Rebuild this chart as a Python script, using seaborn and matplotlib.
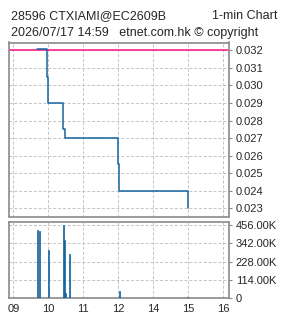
import matplotlib
matplotlib.use("Agg")
import matplotlib.pyplot as plt
import seaborn as sns
import pandas as pd

# ---- data ----
hour_labels = ["09", "10", "11", "12", "14", "15", "16"]
price_times = ["09:41", "09:58", "10:00", "10:25", "10:26", "10:28", "12:00", "12:02", "14:59"]
prices = [0.03207, 0.0305, 0.029, 0.0285, 0.0275, 0.027, 0.0255, 0.024, 0.023]
prev_close = 0.032
vol_times = ["09:41", "09:45", "10:00", "10:26", "10:28", "10:29", "10:36", "12:02", "14:59"]
volumes = [425000, 418000, 300000, 456000, 362000, 31000, 274000, 42000, 5000]
price_ticks = [0.023, 0.024, 0.025, 0.026, 0.027, 0.028, 0.029, 0.030, 0.031, 0.032]
vol_ticks = [0, 114000, 228000, 342000, 456000]
vol_tick_labels = ["0", "114.00K", "228.00K", "342.00K", "456.00K"]
title1_left = "28596 CTXIAMI@EC2609B"
title1_right = "1-min Chart"
title2 = "2026/07/17 14:59   etnet.com.hk \u00a9 copyright"

HOUR_INDEX = {9: 0, 10: 1, 11: 2, 12: 3, 13: 3, 14: 4, 15: 5, 16: 6}


def to_pos(t):
    h, m = map(int, t.split(":"))
    return HOUR_INDEX[h] + m / 60.0


price_df = pd.DataFrame({"pos": [to_pos(t) for t in price_times], "price": prices})
vol_df = pd.DataFrame({"pos": [to_pos(t) for t in vol_times], "vol": volumes})

sns.set_style("white")
plt.rcParams["font.family"] = ["Liberation Sans", "DejaVu Sans"]

BLUE = "#1464a0"
PINK = "#ff1080"
GRID = "#c4c4c4"
SPINE = "#8a8a8a"

fig = plt.figure(figsize=(2.85, 3.18), dpi=100)
ax1 = fig.add_axes([8.5 / 285, 1 - 216.5 / 318, 221 / 285, 174 / 318])
ax2 = fig.add_axes([8.5 / 285, 1 - 298 / 318, 221 / 285, 76.5 / 318])

xlim = (-0.137, 6.177)
xticks = list(range(len(hour_labels)))

for ax in (ax1, ax2):
    ax.set_xlim(*xlim)
    ax.set_xticks(xticks)
    for s in ax.spines.values():
        s.set_color(SPINE)
        s.set_linewidth(1.2)
    ax.grid(True, color=GRID, linestyle=(0, (3, 2)), linewidth=0.7)
    ax.set_axisbelow(True)
    ax.yaxis.tick_right()
    ax.tick_params(axis="y", which="both", direction="out", length=2.5, width=0.8,
                   color=SPINE, labelsize=8, pad=2, left=False, right=True)

# ---- price panel ----
ax1.axhline(prev_close, color=PINK, linewidth=1.1, zorder=2)
sns.lineplot(data=price_df, x="pos", y="price", drawstyle="steps-post",
             color=BLUE, linewidth=1.1, ax=ax1, zorder=3)
ax1.set_ylim(0.022533, 0.032444)
ax1.set_yticks(price_ticks)
ax1.set_yticklabels([f"{v:.3f}" for v in price_ticks])
ax1.tick_params(axis="x", length=0, labelbottom=False)
ax1.set_xlim(*xlim)
ax1.set_xlabel("")
ax1.set_ylabel("")

# ---- volume panel ----
sns.barplot(data=vol_df, x="pos", y="vol", native_scale=True, width=1.0,
            color=BLUE, saturation=1, linewidth=0.5, edgecolor=BLUE, ax=ax2, zorder=3)
ax2.set_xlim(*xlim)
ax2.set_xticks(xticks)
ax2.set_xticklabels(hour_labels)
ax2.set_ylim(0, 478000)
ax2.set_yticks(vol_ticks)
ax2.set_yticklabels(vol_tick_labels)
ax2.tick_params(axis="x", direction="out", length=2.5, width=0.8, color=SPINE,
                labelsize=8, pad=1.5)
ax2.set_xlabel("")
ax2.set_ylabel("")

# ---- header text ----
fig.text(11 / 285, 1 - 19 / 318, title1_left, fontsize=9, ha="left", va="baseline")
fig.text(278 / 285, 1 - 19 / 318, title1_right, fontsize=9, ha="right", va="baseline")
fig.text(11 / 285, 1 - 36 / 318, title2, fontsize=9, ha="left", va="baseline")

fig.savefig("out.png", dpi=100)
